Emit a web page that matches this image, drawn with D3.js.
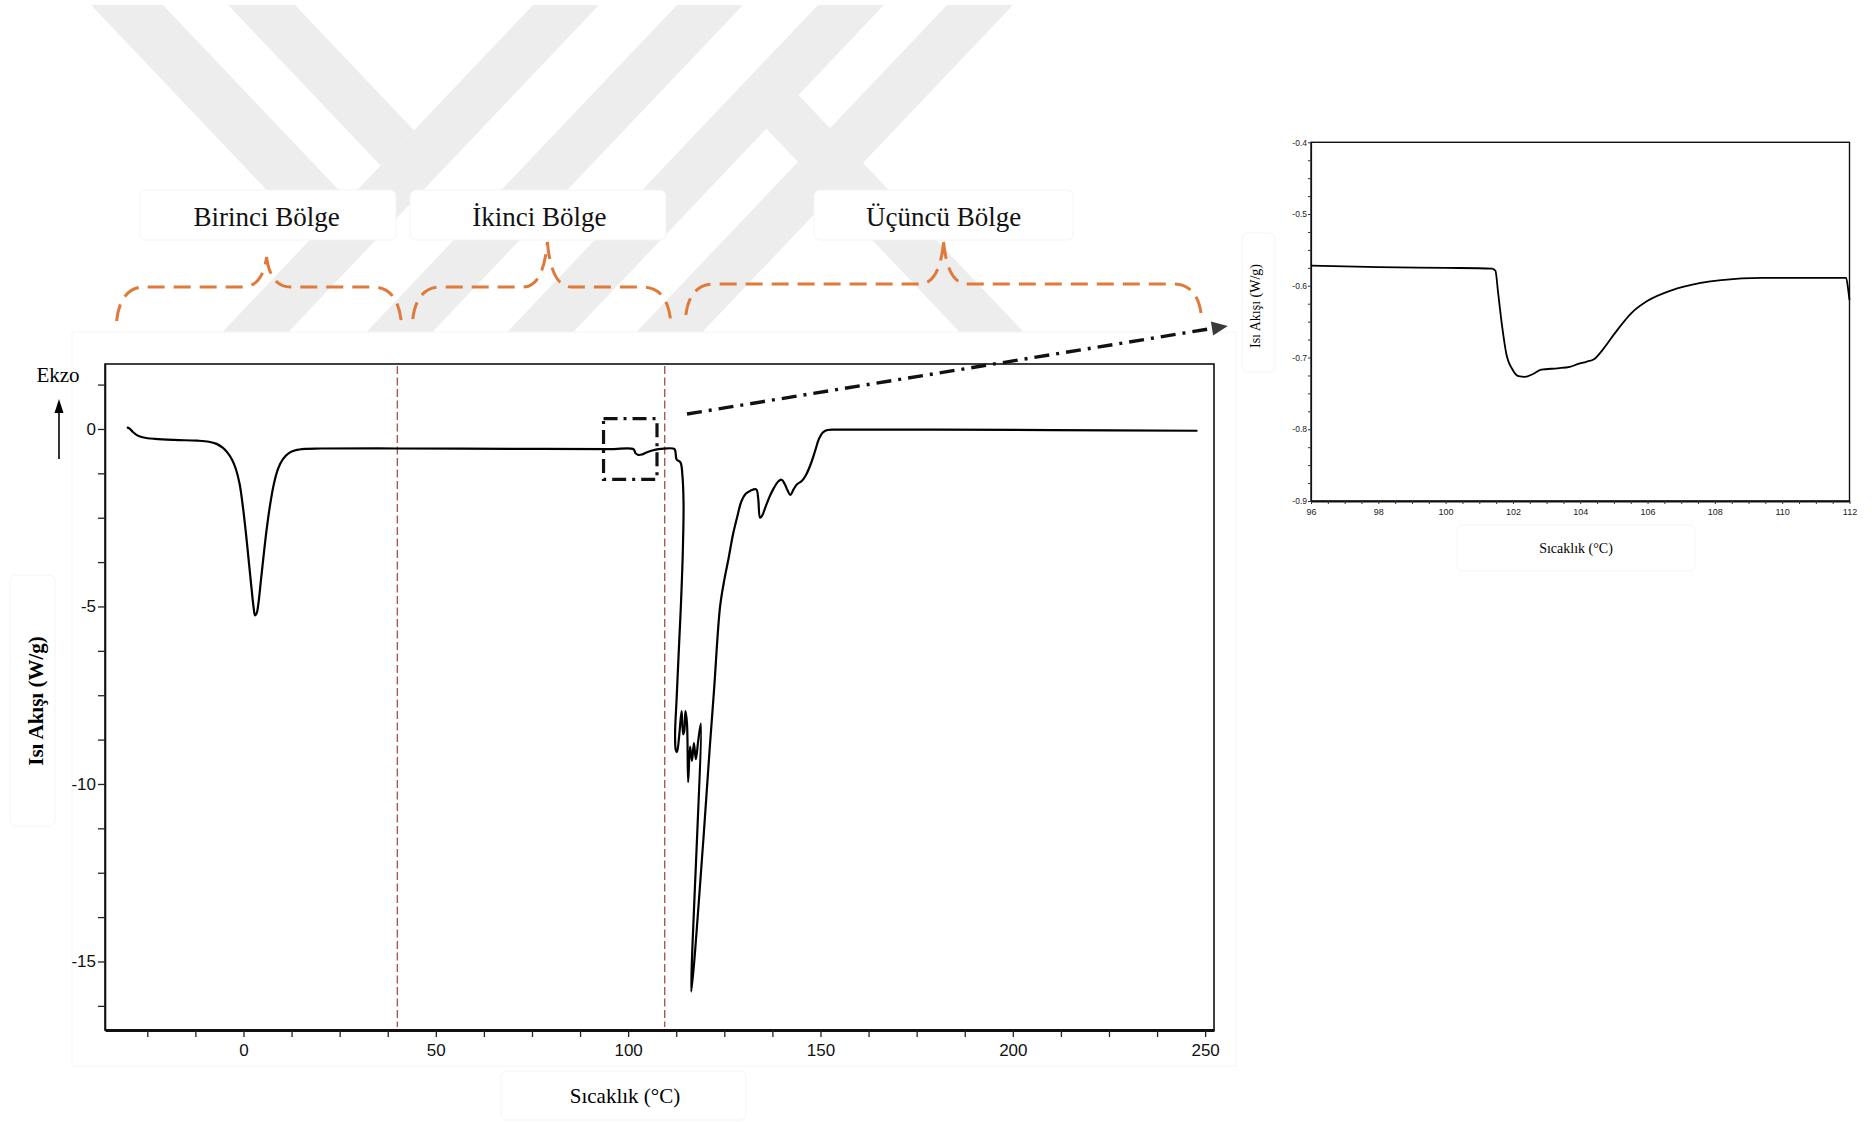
<!DOCTYPE html>
<html lang="tr">
<head>
<meta charset="utf-8">
<title>DSC termogramı</title>
<script src="https://cdn.jsdelivr.net/npm/d3@7"></script>
<style>
  html, body { margin: 0; padding: 0; background: #fff; }
  svg { display: block; }
</style>
</head>
<body>
<svg id="chart" width="1872" height="1122"></svg>
<script>
// ---- Data: DSC heat flow (W/g) against temperature (°C) ----
const mainTemp = [-30.3, -29.6, -28.8, -27.6, -26.0, -23.0, -18.0, -12.0, -9.0, -7.0, -5.5, -4.2, -3.0, -2.0, -1.0, -0.2,
  0.6, 1.4, 2.1, 2.6, 3.0, 3.4, 3.9, 4.5, 5.2, 6.0, 6.9, 7.9, 9.0, 10.3, 11.8, 13.5, 16.0, 20, 40, 70, 95,
  101.4, 101.9, 102.6, 103.6, 104.6, 105.8, 107.2, 108.5, 112.0, 112.3, 112.6, 113.6, 114.1, 114.4, 114.2, 113.7,
  113.1, 112.6, 112.2, 112.4, 112.7, 113.3, 113.9, 114.3, 114.6, 114.9, 115.3, 115.6, 116.1, 116.6, 117.1, 117.6,
  118.2, 118.9, 116.4, 119.6, 121.2, 122.3, 123.9, 125.0, 126.1, 127.2, 128.3, 129.4, 130.5, 131.8, 133.3, 133.8,
  134.3, 134.8, 135.7, 136.8, 137.8, 139.0, 139.9, 140.7, 141.4, 142.2, 143.0, 143.9, 145.2, 146.3, 147.5, 148.6,
  149.6, 150.6, 151.8, 155, 180, 210, 248];
const mainFlow = [0.05, 0.01, -0.08, -0.18, -0.24, -0.28, -0.31, -0.33, -0.36, -0.42, -0.52, -0.66, -0.86, -1.12, -1.55, -2.15,
  -2.9, -3.75, -4.5, -5.0, -5.25, -5.2, -4.9, -4.3, -3.6, -2.85, -2.15, -1.55, -1.12, -0.84, -0.68, -0.6, -0.56, -0.55, -0.55, -0.56, -0.57,
  -0.57, -0.68, -0.73, -0.72, -0.67, -0.62, -0.58, -0.56, -0.56, -0.65, -0.86, -0.94, -1.3, -2.1, -3.5, -5.0,
  -6.4, -7.6, -8.6, -9.05, -9.1, -8.6, -7.95, -8.6, -8.5, -7.95, -8.3, -9.95, -8.95, -9.35, -8.85, -9.3,
  -8.8, -8.3, -15.85, -11.5, -9.0, -7.4, -5.0, -4.25, -3.65, -3.0, -2.5, -2.05, -1.83, -1.74, -1.70, -1.95,
  -2.5, -2.45, -2.2, -1.9, -1.68, -1.48, -1.43, -1.55, -1.72, -1.86, -1.7, -1.56, -1.46, -1.28, -0.98, -0.62,
  -0.28, -0.1, -0.03, -0.02, -0.02, -0.03, -0.05];

// Detail of the 96–112 °C window
const insetTemp = [96.0, 98.0, 100.0, 101.38, 101.48, 101.56, 101.68, 101.8, 101.99, 102.17, 102.35, 102.6, 102.84,
  103.33, 103.69, 103.94, 104.18, 104.42, 104.67, 105.03, 105.52, 106.0, 106.73, 107.58, 108.19, 109.41, 110.63, 111.9, 111.96, 112.0];
const insetFlow = [-0.572, -0.574, -0.575, -0.576, -0.579, -0.61, -0.657, -0.694, -0.717, -0.726, -0.727, -0.723, -0.717,
  -0.715, -0.713, -0.709, -0.706, -0.702, -0.689, -0.666, -0.638, -0.621, -0.606, -0.596, -0.592, -0.589, -0.589, -0.589, -0.605, -0.62];

// Axis ticks
const mainXTicks = [0, 50, 100, 150, 200, 250];
const mainYTicks = [0, -5, -10, -15];
const insetXTicks = [96, 98, 100, 102, 104, 106, 108, 110, 112];
const insetYTicks = [-0.4, -0.5, -0.6, -0.7, -0.8, -0.9];

// Temperature regions
const regionNames = ["Birinci Bölge", "İkinci Bölge", "Üçüncü Bölge"];
const regionStart = [-33, 44, 115];
const regionEnd = [41, 111, 249];
const regionMid = [6, 79, 182];
const regionBounds = [40, 109.5];

const SERIF = '"Liberation Serif", "Times New Roman", serif';
const NARROW = '"Liberation Sans Narrow", "Arial Narrow", "Liberation Sans", Arial, sans-serif';

const svg = d3.select("#chart");
const defs = svg.append("defs");

// ---- Background watermark (light grey diagonal bands) ----
defs.append("clipPath").attr("id", "wmClip")
  .append("rect").attr("x", 0).attr("y", 0).attr("width", 1872).attr("height", 332);
const wm = svg.append("g").attr("clip-path", "url(#wmClip)").attr("fill", "#ededed");
const run = 0.95, y0w = 5, yEnd = 360;
const slashBands = [533, 677, 818, 947];
const bw = 66;
slashBands.forEach(x => {
  wm.append("polygon").attr("points",
    [[x, y0w], [x + bw, y0w], [x + bw - run * (yEnd - y0w), yEnd], [x - run * (yEnd - y0w), yEnd]].join(" "));
});
// back-slash bands ending on the left edge of the first slash band
function backBand(xl, w, stopX) {
  const dR = (stopX - (xl + w)) / (2 * run), dL = (stopX - xl) / (2 * run);
  return [[xl, y0w], [xl + w, y0w], [xl + w + run * dR, y0w + dR], [xl + run * dL, y0w + dL]];
}
wm.append("polygon").attr("points", backBand(91, 72, slashBands[0]).join(" "));
wm.append("polygon").attr("points", backBand(228, 67, slashBands[0]).join(" "));
// lower leg of the K
(function () {
  const L = 649, w = 64, R = slashBands[2] + bw;
  const dL = (R - L) / (2 * run), dR = (R - L - w) / (2 * run);
  wm.append("polygon").attr("points", [
    [L + w + run * dR, y0w + dR], [L + run * dL, y0w + dL],
    [L + run * (yEnd - y0w), yEnd], [L + w + run * (yEnd - y0w), yEnd]].join(" "));
})();

// ---- Faint text boxes ----
const boxes = [
  [140, 190, 256, 50], [410, 190, 256, 50], [814, 190, 259, 50],
  [10, 575, 45, 251], [501, 1071, 245, 49],
  [1242, 233, 33, 139], [1457, 525, 238, 46]
];
svg.append("rect").attr("x", 72).attr("y", 332).attr("width", 1164).attr("height", 734)
  .attr("fill", "#fff").attr("stroke", "#f5f5f5").attr("stroke-width", 1);
svg.selectAll("rect.tb").data(boxes).join("rect").attr("class", "tb")
  .attr("x", d => d[0]).attr("y", d => d[1]).attr("width", d => d[2]).attr("height", d => d[3])
  .attr("rx", 6).attr("fill", "#fff").attr("stroke", "#f4f4f4").attr("stroke-width", 1);

// ---- Main chart ----
const m = { left: 105, right: 1214, top: 364, bottom: 1030 };
const x = d3.scaleLinear().domain([-36, 252.3]).range([m.left, m.right]);
const y = d3.scaleLinear().domain([-16.93, 1.83]).range([m.bottom, m.top]);

// region separators
svg.selectAll("line.sep").data(regionBounds).join("line").attr("class", "sep")
  .attr("x1", d => x(d)).attr("x2", d => x(d)).attr("y1", m.top + 2).attr("y2", m.bottom - 3)
  .attr("stroke", "#a55a52").attr("stroke-width", 1.4).attr("stroke-dasharray", "8,3.5");

// frame
svg.append("rect").attr("x", m.left).attr("y", m.top).attr("width", m.right - m.left).attr("height", m.bottom - m.top)
  .attr("fill", "none").attr("stroke", "#111").attr("stroke-width", 1.6);

const xMinor = d3.range(-25, 251, 12.5);
const xAxis = svg.append("g").attr("transform", `translate(0,${m.bottom})`)
  .call(d3.axisBottom(x).tickValues(xMinor).tickSize(7).tickSizeOuter(0)
    .tickFormat(d => mainXTicks.includes(d) ? String(d) : ""));
xAxis.select(".domain").attr("stroke-width", 3).attr("stroke", "#111");
xAxis.selectAll(".tick line").attr("stroke-width", 1.3).attr("stroke", "#222");
xAxis.selectAll(".tick text").attr("font-family", NARROW).attr("font-size", 17).attr("dy", "0.95em").attr("fill", "#111");

const yMinor = d3.range(-16.25, 1.3, 1.25);
const yAxis = svg.append("g").attr("transform", `translate(${m.left},0)`)
  .call(d3.axisLeft(y).tickValues(yMinor).tickSize(7).tickSizeOuter(0)
    .tickFormat(d => mainYTicks.includes(d) ? String(d) : ""));
yAxis.select(".domain").attr("stroke-width", 1.6).attr("stroke", "#111");
yAxis.selectAll(".tick line").attr("stroke-width", 1.3).attr("stroke", "#222");
yAxis.selectAll(".tick text").attr("font-family", NARROW).attr("font-size", 17).attr("x", -9).attr("fill", "#111");

// curve
const mainPts = mainTemp.map((t, i) => [t, mainFlow[i]]);
svg.append("path").datum(mainPts)
  .attr("d", d3.line().x(d => x(d[0])).y(d => y(d[1])).curve(d3.curveCatmullRom.alpha(0.5)))
  .attr("fill", "none").attr("stroke", "#000").attr("stroke-width", 2.2).attr("stroke-linejoin", "round");

// axis titles
svg.append("text").attr("x", 625).attr("y", 1103).attr("text-anchor", "middle")
  .attr("font-family", SERIF).attr("font-size", 21).text("Sıcaklık (°C)");
svg.append("text").attr("transform", "translate(43,701) rotate(-90)").attr("text-anchor", "middle")
  .attr("font-family", SERIF).attr("font-size", 21).attr("font-weight", "bold").text("Isı Akışı (W/g)");

// exo direction marker
svg.append("text").attr("x", 58).attr("y", 382).attr("text-anchor", "middle")
  .attr("font-family", SERIF).attr("font-size", 21).text("Ekzo");
svg.append("line").attr("x1", 59).attr("x2", 59).attr("y1", 459).attr("y2", 410)
  .attr("stroke", "#000").attr("stroke-width", 1.6);
svg.append("polygon").attr("points", "59,399 54.5,413 63.5,413").attr("fill", "#000");

// zoom window and leader
const zb = { t0: 93.6, t1: 107.5, q0: -1.42, q1: 0.29 };
svg.append("rect").attr("x", x(zb.t0)).attr("y", y(zb.q1)).attr("width", x(zb.t1) - x(zb.t0)).attr("height", y(zb.q0) - y(zb.q1))
  .attr("fill", "none").attr("stroke", "#111").attr("stroke-width", 3.2).attr("stroke-dasharray", "14,6,3,6");
const lead = { x1: 687, y1: 414, x2: 1215, y2: 328 };
svg.append("line").attr("x1", lead.x1).attr("y1", lead.y1).attr("x2", lead.x2).attr("y2", lead.y2)
  .attr("stroke", "#111").attr("stroke-width", 3.4).attr("stroke-dasharray", "15,7,3,7");
(function () {
  const ang = Math.atan2(lead.y2 - lead.y1, lead.x2 - lead.x1) * 180 / Math.PI;
  svg.append("polygon").attr("points", "0,-7 16,0 0,7")
    .attr("transform", `translate(${lead.x2 - 3},${lead.y2 + 0.5}) rotate(${ang})`).attr("fill", "#3a3a3a");
})();

// ---- Region braces ----
const braceColor = "#e07a3a";
const braceGeom = [
  { yh: 287, yb: 321, yt: 257 },
  { yh: 287, yb: 319, yt: 242 },
  { yh: 284, yb: 315, yt: 242 }
];
regionNames.forEach((name, i) => {
  const x0 = x(regionStart[i]), x1 = x(regionEnd[i]), xm = x(regionMid[i]);
  const g = braceGeom[i];
  const p = d3.path();
  p.moveTo(x0, g.yb);
  p.quadraticCurveTo(x0 + 4, g.yh, x0 + 28, g.yh);
  p.lineTo(xm - 24, g.yh);
  p.quadraticCurveTo(xm - 4, g.yh, xm, g.yt);
  p.moveTo(xm, g.yt);
  p.quadraticCurveTo(xm + 4, g.yh, xm + 24, g.yh);
  p.lineTo(x1 - 28, g.yh);
  p.quadraticCurveTo(x1 - 4, g.yh, x1, g.yb);
  svg.append("path").attr("d", p.toString()).attr("fill", "none")
    .attr("stroke", braceColor).attr("stroke-width", 3).attr("stroke-dasharray", "17,9");
  svg.append("text").attr("x", xm + (i === 1 ? -8 : 0)).attr("y", 226).attr("text-anchor", "middle")
    .attr("font-family", SERIF).attr("font-size", 27).attr("fill", "#111").text(name);
});

// ---- Inset chart ----
const im = { left: 1311, right: 1849.5, top: 142.3, bottom: 501 };
const xi = d3.scaleLinear().domain([96, 112]).range([im.left, im.right]);
const yi = d3.scaleLinear().domain([-0.9, -0.4]).range([im.bottom, im.top]);

svg.append("rect").attr("x", im.left).attr("y", im.top).attr("width", im.right - im.left).attr("height", im.bottom - im.top)
  .attr("fill", "none").attr("stroke", "#111").attr("stroke-width", 1.4);

const xiAxis = svg.append("g").attr("transform", `translate(0,${im.bottom})`)
  .call(d3.axisBottom(xi).tickValues(d3.range(96, 112.01, 0.5)).tickSize(3).tickSizeOuter(0)
    .tickFormat(d => insetXTicks.includes(d) ? String(d) : ""));
xiAxis.select(".domain").attr("stroke-width", 1.8).attr("stroke", "#111");
xiAxis.selectAll(".tick line").attr("stroke", "#333");
xiAxis.selectAll(".tick text").attr("font-family", NARROW).attr("font-size", 9).attr("dy", "0.9em").attr("fill", "#222");

const yiAxis = svg.append("g").attr("transform", `translate(${im.left},0)`)
  .call(d3.axisLeft(yi).tickValues(d3.range(-0.9, -0.399, 0.025).map(v => +v.toFixed(3))).tickSize(3).tickSizeOuter(0)
    .tickFormat(d => insetYTicks.includes(d) ? d.toFixed(1) : ""));
yiAxis.select(".domain").attr("stroke-width", 1.2).attr("stroke", "#111");
yiAxis.selectAll(".tick line").attr("stroke", "#333");
yiAxis.selectAll(".tick text").attr("font-family", NARROW).attr("font-size", 8.5).attr("x", -4).attr("fill", "#222");

const insetPts = insetTemp.map((t, i) => [t, insetFlow[i]]);
svg.append("path").datum(insetPts)
  .attr("d", d3.line().x(d => xi(d[0])).y(d => yi(d[1])).curve(d3.curveMonotoneX))
  .attr("fill", "none").attr("stroke", "#000").attr("stroke-width", 1.8);

svg.append("text").attr("x", 1576).attr("y", 553).attr("text-anchor", "middle")
  .attr("font-family", SERIF).attr("font-size", 14).text("Sıcaklık (°C)");
svg.append("text").attr("transform", "translate(1260,306) rotate(-90)").attr("text-anchor", "middle")
  .attr("font-family", SERIF).attr("font-size", 14).text("Isı Akışı (W/g)");
</script>
</body>
</html>
